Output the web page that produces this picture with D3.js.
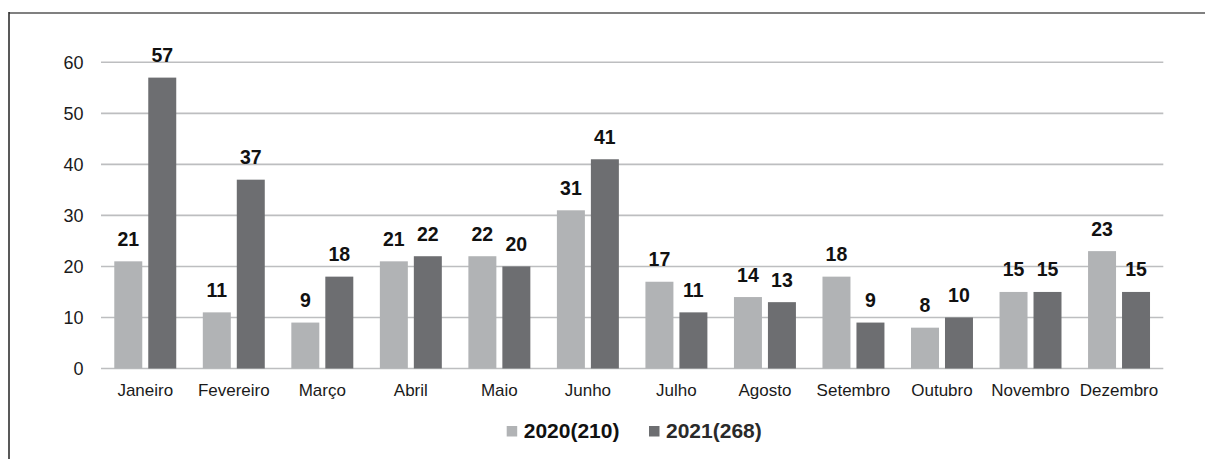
<!DOCTYPE html>
<html>
<head>
<meta charset="utf-8">
<script src="https://cdn.jsdelivr.net/npm/d3@7"></script>
<style>
  body { margin: 0; background: #fff; }
  text { font-family: "Liberation Sans", Arial, sans-serif; }
</style>
</head>
<body>
<div id="chart"></div>
<script>
var months = ["Janeiro", "Fevereiro", "Março", "Abril", "Maio", "Junho", "Julho", "Agosto", "Setembro", "Outubro", "Novembro", "Dezembro"];
var values2020 = [21, 11, 9, 21, 22, 31, 17, 14, 18, 8, 15, 23];
var values2021 = [57, 37, 18, 22, 20, 41, 11, 13, 9, 10, 15, 15];
var seriesNames = ["2020(210)", "2021(268)"];
var yTicks = [0, 10, 20, 30, 40, 50, 60];

var width = 1205;
var height = 459;
var colors = ["#b1b3b5", "#6d6e71"];

var svg = d3.select("#chart")
    .append("svg")
    .attr("width", width)
    .attr("height", height);

// frame (only top and left edges visible)
svg.append("line")
    .attr("x1", 9).attr("x2", width).attr("y1", 13).attr("y2", 13)
    .attr("stroke", "#808080").attr("stroke-width", 2);
svg.append("line")
    .attr("x1", 9).attr("x2", 9).attr("y1", 12).attr("y2", height)
    .attr("stroke", "#222").attr("stroke-width", 1.5);

var x0 = d3.scaleBand().domain(months).range([101, 1163.3]).paddingInner(0.3).paddingOuter(0.15);
var x1 = d3.scaleBand().domain([0, 1]).range([0, x0.bandwidth()]).paddingInner(6 / 34);
var y = d3.scaleLinear().domain([0, 60]).range([368.5, 62.3]);

// grid
svg.append("g").selectAll("line")
    .data(yTicks)
    .enter().append("line")
    .attr("x1", 101).attr("x2", 1163.3)
    .attr("y1", function(d){ return y(d); })
    .attr("y2", function(d){ return y(d); })
    .attr("stroke", "#bdbec0")
    .attr("stroke-width", 1.6);

svg.append("g").selectAll("text")
    .data(yTicks)
    .enter().append("text")
    .attr("x", 83.5)
    .attr("y", function(d){ return y(d) + 6.5; })
    .attr("text-anchor", "end")
    .attr("font-size", 18)
    .attr("fill", "#1a1a1a")
    .text(function(d){ return d; });

var rows = months.map(function(m, i){
    return { month: m, vals: [values2020[i], values2021[i]] };
});

var groups = svg.append("g").selectAll("g")
    .data(rows)
    .enter().append("g")
    .attr("transform", function(d){ return "translate(" + x0(d.month) + ",0)"; });

groups.selectAll("rect")
    .data(function(d){ return d.vals; })
    .enter().append("rect")
    .attr("x", function(d, i){ return x1(i); })
    .attr("y", function(d){ return y(d); })
    .attr("width", x1.bandwidth())
    .attr("height", function(d){ return y(0) - y(d); })
    .attr("fill", function(d, i){ return colors[i]; });

groups.selectAll("text.val")
    .data(function(d){ return d.vals; })
    .enter().append("text")
    .attr("class", "val")
    .attr("x", function(d, i){ return x1(i) + x1.bandwidth() / 2; })
    .attr("y", function(d){ return y(d) - 15.5; })
    .attr("text-anchor", "middle")
    .attr("font-size", 19.5)
    .attr("font-weight", "bold")
    .attr("fill", "#111")
    .text(function(d){ return d; });

// month labels
svg.append("g").selectAll("text")
    .data(months)
    .enter().append("text")
    .attr("x", function(d){ return x0(d) + x0.bandwidth() / 2; })
    .attr("y", 396)
    .attr("text-anchor", "middle")
    .attr("font-size", 17)
    .attr("fill", "#1a1a1a")
    .text(function(d){ return d; });

// legend
var legendX = [506.7, 649];
var legend = svg.append("g").selectAll("g")
    .data(seriesNames)
    .enter().append("g")
    .attr("transform", function(d, i){ return "translate(" + legendX[i] + ",426)"; });

legend.append("rect")
    .attr("width", 10.5).attr("height", 10.5)
    .attr("fill", function(d, i){ return colors[i]; });

legend.append("text")
    .attr("x", 17)
    .attr("y", 11.5)
    .attr("font-size", 21)
    .attr("font-weight", "bold")
    .attr("fill", function(d, i){ return i === 0 ? "#111" : "#2a2a2a"; })
    .text(function(d){ return d; });
</script>
</body>
</html>
